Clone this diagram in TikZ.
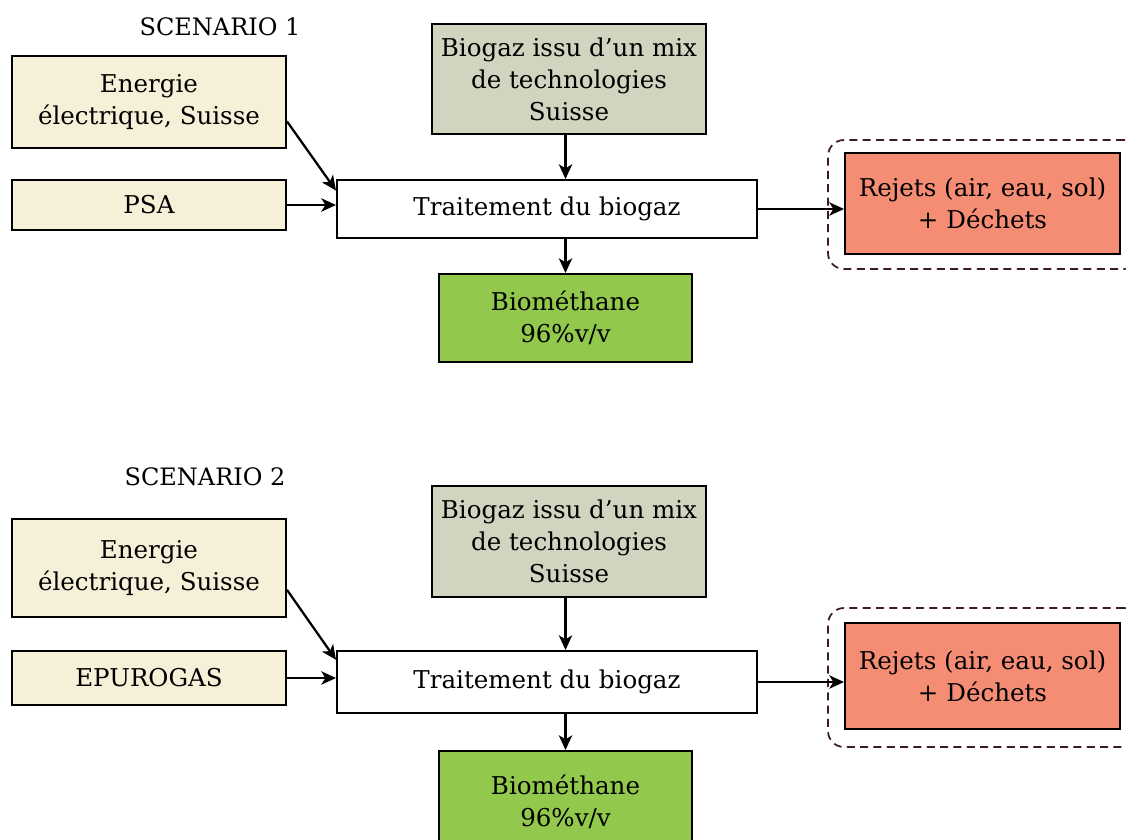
\documentclass[tikz,border=0pt]{standalone}
\usepackage{fontspec}
\setmainfont{DejaVu Serif}
\usetikzlibrary{arrows.meta}
\definecolor{creamfill}{RGB}{246,240,216}
\definecolor{greyfill}{RGB}{208,213,191}
\definecolor{greenfill}{RGB}{146,200,75}
\definecolor{salmonfill}{RGB}{245,141,117}
\definecolor{dashcol}{RGB}{60,30,30}
\tikzset{
  box/.style={draw=black, line width=1.5pt, inner sep=0pt, align=center,
    font=\fontsize{18.4}{24}\selectfont},
  inbox/.style={box, fill=creamfill},
  biobox/.style={box, fill=greyfill},
  treatbox/.style={box, fill=white},
  methbox/.style={box, fill=greenfill},
  rejbox/.style={box, fill=salmonfill},
  groupbox/.style={draw=dashcol, dashed, dash pattern=on 6pt off 4pt, line width=1.3pt, rounded corners=12pt, inner sep=0pt},
  title/.style={inner sep=0pt, font=\fontsize{18}{24}\selectfont},
  flow/.style={line width=1.7pt, -{Stealth[length=11pt,width=10pt,inset=3pt]}},
}
\begin{document}
\begin{tikzpicture}[x=0.75pt,y=-0.75pt]
\useasboundingbox (0,0) rectangle (1126,839);
% Scenario 1
\node[title] (s1) at (220,27) {SCENARIO 1};
\node[groupbox, minimum width=234pt, minimum height=96.75pt] (d1) at (984,204.5) {};
\node[inbox, minimum width=205.5pt, minimum height=69pt] (e1) at (149,102) {Energie\\électrique, Suisse};
\node[inbox, minimum width=205.5pt, minimum height=37.5pt] (p1) at (149,205) {PSA};
\node[biobox, minimum width=205.5pt, minimum height=82.5pt] (b1) at (569,79) {Biogaz issu d’un mix\\de technologies\\Suisse};
\node[treatbox, minimum width=315pt, minimum height=43.5pt] (t1) at (547,209) {Traitement du biogaz};
\node[methbox, minimum width=189.75pt, minimum height=66pt] (m1) at (565.5,318) {Biométhane\\96\%v/v};
\node[rejbox, minimum width=206.25pt, minimum height=75.75pt] (r1) at (982.5,203.5) {Rejets (air, eau, sol)\\+ Déchets};
\draw[flow] (e1.-8.7) -- (t1.175.6);
\draw[flow] (p1.east) -- (p1.east -| t1.west);
\draw[flow] (m1.north |- b1.south) -- (m1.north |- t1.north);
\draw[flow] (m1.north |- t1.south) -- (m1.north);
\draw[flow] (t1.east) -- (t1.east -| r1.west);
% Scenario 2
\node[title] (s2) at (205,477) {SCENARIO 2};
\node[groupbox, minimum width=234pt, minimum height=104.25pt] (d2) at (984,677.5) {};
\node[inbox, minimum width=205.5pt, minimum height=73.5pt] (e2) at (149,568) {Energie\\électrique, Suisse};
\node[inbox, minimum width=205.5pt, minimum height=40.5pt] (p2) at (149,678) {EPUROGAS};
\node[biobox, minimum width=205.5pt, minimum height=83.25pt] (b2) at (569,541.5) {Biogaz issu d’un mix\\de technologies\\Suisse};
\node[treatbox, minimum width=315pt, minimum height=46.5pt] (t2) at (547,682) {Traitement du biogaz};
\node[methbox, minimum width=189.75pt, minimum height=75.75pt] (m2) at (565.5,801.5) {Biométhane\\96\%v/v};
\node[rejbox, minimum width=206.25pt, minimum height=79.5pt] (r2) at (982.5,676) {Rejets (air, eau, sol)\\+ Déchets};
\draw[flow] (e2.-9.9) -- (t2.174.8);
\draw[flow] (p2.east) -- (p2.east -| t2.west);
\draw[flow] (m2.north |- b2.south) -- (m2.north |- t2.north);
\draw[flow] (m2.north |- t2.south) -- (m2.north);
\draw[flow] (t2.east) -- (t2.east -| r2.west);
\end{tikzpicture}
\end{document}
